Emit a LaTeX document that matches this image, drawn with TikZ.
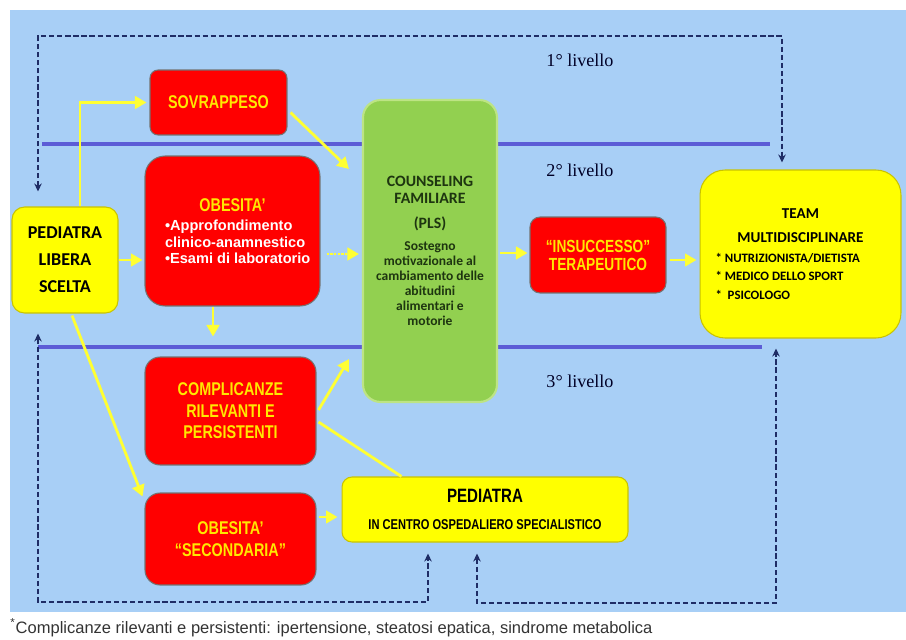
\documentclass[tikz,border=0pt]{standalone}
\usepackage{fontspec}
\setmainfont{Liberation Serif}
\newfontfamily\calibfont{Carlito}
\newfontfamily\arialfont{Liberation Sans}
\newfontfamily\narrowfont[FakeStretch=0.78]{Liberation Sans}
\usetikzlibrary{arrows.meta,positioning,calc}
\definecolor{panelblue}{HTML}{A8CFF6}
\definecolor{boxred}{HTML}{FF0000}
\definecolor{boxyellow}{HTML}{FFFF00}
\definecolor{boxgreen}{HTML}{92D050}
\definecolor{edgegreen}{HTML}{BDE484}
\definecolor{edgeyellow}{HTML}{C9C300}
\definecolor{textyellow}{HTML}{FFE800}
\definecolor{textgreen}{HTML}{1E3510}
\definecolor{linepurple}{HTML}{5C5CD6}
\definecolor{navydash}{HTML}{1F2D66}
\definecolor{arrowyellow}{HTML}{FFFF33}

\begin{document}
\begin{tikzpicture}[
    x=0.02cm, y=-0.02cm,
    redbox/.style={rectangle, rounded corners=0.2cm, draw=black!55, fill=boxred, line width=0.6pt, inner sep=0pt, align=center, text=textyellow, font=\narrowfont\bfseries\fontsize{10.5}{12.2}\selectfont},
    yelbox/.style={rectangle, rounded corners=0.25cm, draw=edgeyellow, fill=boxyellow, line width=0.6pt, inner sep=0pt, align=center, text=black},
    greenbox/.style={rectangle, rounded corners=0.35cm, draw=edgegreen, fill=boxgreen, line width=1.2pt, inner sep=0pt, align=center, text=textgreen, font=\calibfont\bfseries\fontsize{7.7}{8.5}\selectfont},
    levellabel/.style={font=\fontsize{10.3}{12}\selectfont, text=black!85!blue},
    levelline/.style={draw=linepurple, line width=2pt},
    yarrow/.style={draw=arrowyellow, line width=1.6pt, -{Triangle[length=2.3mm,width=2.5mm]}},
    yline/.style={draw=arrowyellow, line width=1.6pt},
    feedback/.style={draw=navydash, line width=0.9pt, dash pattern=on 3pt off 1.6pt, {Stealth[length=1.6mm,width=1.5mm]}-{Stealth[length=1.6mm,width=1.5mm]}}
  ]
    \useasboundingbox (0,0) rectangle (906,639);
    \fill[white] (0,0) rectangle (906,639);
    \fill[panelblue] (10,10) rectangle (906,612);

    % separators between the levels
    \draw[levelline] (42,144) -- (770,144);
    \draw[levelline] (38,347) -- (762,347);
    \node[levellabel] (lev1) at (580,60) {1° livello};
    \node[levellabel] (lev2) at (580,170) {2° livello};
    \node[levellabel] (lev3) at (580,381) {3° livello};

    % boxes
    \node[yelbox, minimum width=2.12cm, minimum height=2.12cm, font=\calibfont\bfseries\fontsize{10.3}{15.3}\selectfont] (ped) at (65,260) {PEDIATRA\\LIBERA\\SCELTA};
    \node[redbox, rounded corners=0.16cm, minimum width=2.74cm, minimum height=1.3cm] (sovr) at (218.5,102.5) {SOVRAPPESO};
    \node[redbox, rounded corners=0.4cm, minimum width=3.5cm, minimum height=3cm, text=white, font=\arialfont\bfseries\fontsize{8.3}{9.2}\selectfont] (obes) at (232.5,231)
      {{\narrowfont\fontsize{10.5}{12}\selectfont\color{textyellow}OBESITA’}\\[1.6pt]
       \makebox[2.7cm][l]{•Approfondimento}\\[0.4pt]
       \makebox[2.7cm][l]{clinico-anamnestico}\\
       \makebox[2.7cm][l]{•Esami di laboratorio}};
    \node[greenbox, minimum width=2.68cm, minimum height=6.04cm] (pls) at (430,251)
      {{\fontsize{9}{9.6}\selectfont COUNSELING}\\[1.1pt]{\fontsize{9}{9.6}\selectfont FAMILIARE}\\[5.7pt]{\fontsize{9}{9.6}\selectfont (PLS)}\\[4pt]
       Sostegno\\motivazionale al\\cambiamento delle\\abitudini\\alimentari e\\motorie};
    \node[redbox, rounded corners=0.2cm, minimum width=2.72cm, minimum height=1.52cm, font=\narrowfont\bfseries\fontsize{10}{10.2}\selectfont] (insu) at (598,255) {“INSUCCESSO”\\TERAPEUTICO};
    \node[yelbox, rounded corners=0.5cm, minimum width=4.02cm, minimum height=3.36cm, font=\calibfont\bfseries\fontsize{7.3}{10.5}\selectfont] (team) at (800.5,254)
      {{\fontsize{8.6}{10}\selectfont TEAM}\\[3pt]{\fontsize{8.6}{10}\selectfont MULTIDISCIPLINARE}\\[0.8pt]
       \makebox[3.4cm][l]{* NUTRIZIONISTA/DIETISTA}\\[-0.3pt]
       \makebox[3.4cm][l]{* MEDICO DELLO SPORT}\\[0.2pt]
       \makebox[3.4cm][l]{*\ \ PSICOLOGO}};
    \node[redbox, rounded corners=0.3cm, minimum width=3.42cm, minimum height=2.16cm] (compl) at (230.5,411) {COMPLICANZE\\RILEVANTI E\\PERSISTENTI};
    \node[redbox, rounded corners=0.3cm, minimum width=3.42cm, minimum height=1.84cm] (secon) at (230.5,539) {OBESITA’\\“SECONDARIA”};
    \node[yelbox, rounded corners=0.2cm, minimum width=5.72cm, minimum height=1.3cm, font=\narrowfont\bfseries\fontsize{8.1}{14.7}\selectfont] (ospe) at (485,509.5)
      {{\fontsize{11}{12}\selectfont PEDIATRA}\\[0.3pt]IN CENTRO OSPEDALIERO SPECIALISTICO};

    % yellow connectors
    \draw[yarrow] ($(ped.north)+(15,0)$) |- ($(sovr.west)+(-3,0)$);
    \draw[yarrow] (ped.east) -- ($(obes.west |- ped.east)+(-2,0)$);
    \draw[yarrow] ($(sovr.east)+(3,10)$) -- ($(pls.north west)+(-13,70)$);
    \draw[yarrow, dash pattern=on 1.4pt off 0.7pt] ($(obes.east)+(6,23)$) -- ($(pls.west |- obes.east)+(-3,23)$);
    \draw[yarrow] ($(pls.east)+(2,2)$) -- ($(insu.west |- pls.east)+(-2,2)$);
    \draw[yarrow] ($(insu.east)+(3,5)$) -- ($(team.west |- insu.east)+(-3,5)$);
    \draw[yarrow] ($(obes.south)+(-19.5,0)$) -- ($(compl.north)+(-17.5,-20)$);
    \draw[yarrow] ($(ped.south)+(7,2)$) -- ($(secon.north west)+(-2,4)$);
    \draw[yarrow] ($(compl.east)+(2,-1)$) -- ($(pls.south west)+(-13,-44)$);
    \draw[yline] ($(compl.east)+(2,11)$) -- ($(ospe.north west)+(60,0)$);
    \draw[yarrow] ($(secon.east)+(2,-22)$) -- ($(ospe.west |- secon.east)+(-4,-22)$);

    % dashed return paths
    \coordinate (topL) at (38,36);
    \coordinate (topR) at (782,36);
    \coordinate (botL) at (38,602);
    \coordinate (botM) at (428,602);
    \coordinate (botN) at (477,603);
    \coordinate (botR) at (776,603);
    \draw[feedback] ($(ped.north)+(-27,-15)$) -- (topL) -- (topR) -- ($(team.north)+(-18.5,-7)$);
    \draw[feedback] ($(ped.south)+(-27,20)$) -- (botL) -- (botM) -- ($(ospe.south)+(-57,11)$);
    \draw[feedback] ($(ospe.south)+(-8,11)$) -- (botN) -- (botR) -- ($(team.south)+(-24.5,10)$);

    \node[anchor=west, inner sep=0pt, font=\arialfont\fontsize{9.4}{11}\selectfont, text=black!80] (note) at (10,628)
      {\textsuperscript{*}Complicanze rilevanti e persistenti: ipertensione, steatosi epatica, sindrome metabolica};
  \end{tikzpicture}
\end{document}
